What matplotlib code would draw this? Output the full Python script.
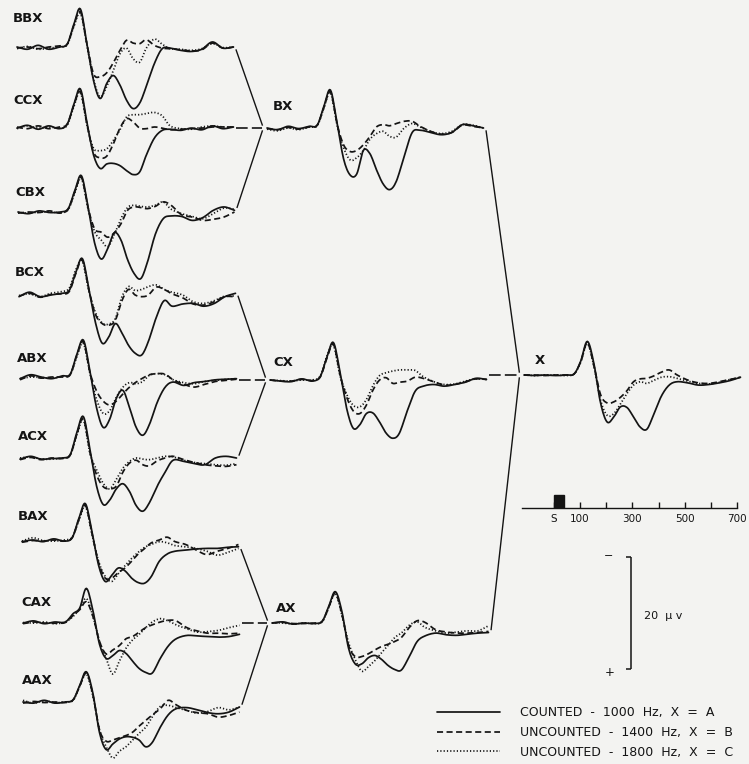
import numpy as np
import matplotlib
matplotlib.use("Agg")
import matplotlib.pyplot as plt

# ---------------- data (µV, negative = upward deflection) ----------------
t_ms = [-130, -90, -50, -10, 30, 60, 85, 110, 135, 160, 185, 210, 235, 260, 285,
        310, 335, 360, 390, 420, 450, 490, 530, 570, 610, 650, 690]

bbx_counted = [0.0, 0.4, -0.3, 0.4, 0.0, -0.5, -4.0, -6.8, -0.5, 6.0, 9.2, 6.5, 5.1, 6.8, 9.5, 11.0, 10.0, 7.0, 3.0, 0.3, 0.2, 0.6, 0.8, 0.4, -0.9, 0.2, 0.0]
bbx_unc1400 = [0.2, 0.0, 0.3, 0.0, -0.2, -0.5, -3.8, -6.3, -0.5, 4.8, 5.3, 4.6, 2.8, 0.6, -1.2, -0.7, -0.6, -1.3, -0.3, 0.2, 0.3, 0.5, 0.7, 0.5, -0.7, 0.2, 0.0]
bbx_unc1800 = [0.3, -0.1, 0.4, 0.2, 0.0, -0.4, -3.6, -6.0, -0.3, 5.8, 8.9, 7.0, 4.2, 1.2, 0.2, 2.1, 2.7, 0.2, -1.4, -0.5, 0.3, 0.4, 0.6, 0.3, -0.6, 0.1, 0.0]

ccx_counted = [0.2, -0.3, 0.4, -0.2, 0.3, -0.5, -4.0, -6.8, -0.8, 5.0, 7.4, 6.6, 6.5, 6.9, 7.8, 8.5, 8.0, 5.0, 2.0, 0.6, 0.4, 0.6, 0.2, 0.5, -0.2, 0.3, 0.0]
ccx_unc1400 = [0.0, 0.3, -0.2, 0.3, 0.0, -0.5, -3.8, -6.3, -0.5, 4.5, 5.5, 5.2, 3.0, 0.2, -1.5, -0.9, 0.2, 0.3, 0.0, 0.2, 0.5, 0.4, 0.3, 0.2, 0.0, 0.0, 0.0]
ccx_unc1800 = [0.3, -0.2, 0.2, 0.0, 0.2, -0.3, -3.6, -6.2, -0.3, 3.8, 4.2, 3.9, 2.4, 0.5, -1.8, -2.2, -2.2, -2.4, -2.6, -2.0, -0.2, 0.3, 0.4, 0.0, -0.2, 0.0, 0.0]

cbx_counted = [0.0, 0.3, -0.2, 0.1, 0.0, -0.6, -3.8, -6.5, -1.0, 5.5, 8.4, 6.5, 3.7, 5.0, 8.5, 11.0, 11.9, 9.0, 4.0, 1.2, 0.7, 0.8, 1.5, 1.0, -0.3, -0.9, -0.3]
cbx_unc1400 = [0.2, 0.0, 0.1, -0.2, 0.2, -0.5, -3.6, -6.2, -0.8, 3.0, 3.6, 4.5, 3.7, 2.1, -0.3, -0.9, -0.8, -0.6, -1.0, -1.8, -1.2, 0.5, 0.9, 1.5, 1.3, 0.9, 0.0]
cbx_unc1800 = [0.1, 0.2, 0.0, 0.0, 0.1, -0.4, -3.4, -6.0, -0.6, 3.5, 5.0, 6.2, 4.0, 1.2, -0.8, -1.2, -1.0, -0.9, -1.2, -1.8, -0.5, 0.3, 0.8, 1.2, 0.3, -0.7, -0.5]

bcx_counted = [0.3, -0.5, 0.3, 0.0, -0.3, -0.8, -4.0, -6.5, -1.0, 5.0, 8.6, 7.5, 5.1, 6.8, 9.0, 10.4, 10.7, 8.3, 4.0, 1.0, 2.0, 1.6, 1.5, 2.0, 1.5, 0.3, -0.3]
bcx_unc1400 = [0.2, -0.3, 0.4, -0.1, -0.2, -0.6, -3.8, -6.2, -0.8, 3.5, 5.1, 5.4, 4.5, 1.0, -1.0, 0.0, 0.3, 0.0, -1.4, -1.0, -0.2, 0.5, 1.6, 1.8, 1.2, 0.3, 0.3]
bcx_unc1800 = [0.1, -0.2, 0.3, -0.3, -0.6, -1.2, -4.5, -6.0, -0.6, 3.2, 5.0, 5.2, 4.2, 0.3, -1.5, -0.8, -1.0, -1.5, -1.8, -1.0, -0.5, 0.0, 1.2, 1.5, 1.0, 0.2, 0.2]

abx_counted = [0.3, -0.4, 0.0, 0.3, -0.2, -0.5, -4.0, -6.6, -1.0, 5.5, 9.0, 7.5, 3.8, 2.4, 5.5, 9.0, 10.4, 8.5, 4.5, 1.8, 0.9, 1.5, 1.0, 0.8, 0.5, 0.4, 0.3]
abx_unc1400 = [0.5, -0.2, 0.2, 0.0, 0.0, -0.4, -3.8, -6.3, -0.8, 2.5, 4.3, 5.0, 4.3, 3.0, 1.8, 0.9, 0.2, -0.4, -0.6, -0.5, 0.5, 1.3, 1.8, 1.3, 0.8, 0.6, 0.4]
abx_unc1800 = [0.3, 0.0, 0.1, 0.2, -0.1, -0.4, -3.6, -6.0, -0.6, 4.0, 6.5, 6.0, 3.6, 1.8, 1.0, 1.2, 0.8, -0.3, -0.6, -0.4, 0.5, 1.0, 1.2, 0.8, 0.6, 0.4, 0.3]

acx_counted = [0.2, -0.3, 0.2, 0.1, 0.0, -0.6, -4.5, -7.4, -1.5, 5.0, 8.3, 7.5, 5.5, 4.6, 6.0, 8.5, 9.5, 8.0, 5.0, 2.5, 0.4, 0.6, 1.0, 1.2, 0.0, -0.3, 0.0]
acx_unc1400 = [0.3, -0.1, 0.3, 0.0, 0.1, -0.5, -4.2, -7.0, -1.0, 3.0, 5.1, 5.5, 5.0, 2.5, 0.9, 0.4, 1.2, 1.4, 0.5, 0.0, -0.3, 0.3, 0.8, 1.2, 1.4, 1.5, 1.2]
acx_unc1800 = [0.0, -0.2, 0.2, 0.2, 0.0, -0.5, -4.0, -6.8, -0.8, 2.1, 4.5, 5.5, 3.8, 1.8, 0.6, 0.0, 0.2, 0.3, 0.0, -0.3, -0.2, 0.4, 0.8, 1.0, 1.2, 1.3, 1.0]

bax_counted = [0.3, 0.0, 0.3, -0.2, 0.2, -0.4, -3.8, -6.5, -1.5, 4.5, 7.4, 6.3, 5.0, 5.5, 6.8, 7.6, 7.7, 6.5, 3.8, 2.5, 2.0, 1.8, 1.6, 1.5, 1.5, 1.3, 1.2]
bax_unc1400 = [0.4, 0.1, 0.2, 0.0, 0.2, -0.4, -3.6, -6.2, -1.2, 4.0, 6.8, 6.8, 5.8, 5.0, 3.8, 2.5, 1.5, 0.5, 0.0, -0.5, 0.3, 0.8, 1.8, 2.6, 2.0, 1.5, 0.8]
bax_unc1800 = [0.2, -0.4, 0.1, 0.2, 0.0, -0.5, -3.4, -6.0, -1.0, 3.8, 6.5, 7.4, 6.0, 4.6, 3.3, 2.2, 1.3, 0.8, 0.3, 0.5, 1.0, 1.2, 1.5, 2.0, 2.7, 2.2, 1.5]

cax_counted = [0.2, -0.2, 0.3, 0.0, 0.0, -1.5, -2.5, -6.0, -2.0, 4.0, 6.5, 6.0, 5.1, 5.6, 7.0, 8.3, 9.0, 9.1, 6.5, 4.3, 3.0, 2.4, 2.5, 2.6, 2.7, 2.6, 2.2]
cax_unc1400 = [0.3, 0.0, 0.2, 0.2, 0.1, -1.2, -2.2, -3.6, -1.0, 3.5, 5.7, 5.0, 4.2, 3.0, 2.6, 1.8, 1.0, 0.5, 0.0, -0.3, -0.2, 1.0, 1.6, 2.0, 2.0, 2.1, 2.0]
cax_unc1800 = [0.1, 0.2, 0.0, 0.3, 0.0, -1.0, -2.4, -4.2, -1.0, 3.5, 6.5, 9.3, 7.0, 4.7, 3.2, 2.2, 1.0, 0.0, -0.6, -0.2, 0.5, 1.2, 1.8, 1.7, 1.5, 1.0, 0.6]

aax_counted = [0.0, 0.2, -0.3, 0.2, 0.0, -0.4, -3.0, -5.4, -1.5, 5.5, 8.5, 7.5, 6.6, 6.2, 6.3, 6.8, 8.0, 7.2, 4.5, 2.3, 1.2, 1.0, 1.4, 1.9, 2.1, 1.8, 0.9]
aax_unc1400 = [0.2, -0.1, 0.1, 0.0, 0.1, -0.4, -2.8, -5.2, -1.2, 5.0, 7.0, 6.8, 6.4, 6.0, 5.4, 4.3, 3.3, 2.3, 1.2, -0.3, 0.5, 1.5, 1.9, 2.1, 2.7, 2.4, 1.8]
aax_unc1800 = [-0.3, 0.2, -0.2, 0.1, 0.0, -0.3, -2.8, -5.0, -1.0, 5.0, 8.0, 10.0, 8.8, 8.0, 6.8, 5.6, 4.5, 2.6, 0.8, 0.6, 1.0, 1.5, 2.0, 1.7, 1.0, 1.4, 0.9]

bx_counted = [0.0, 0.3, -0.3, 0.1, -0.3, -0.5, -3.8, -6.8, -1.0, 5.5, 8.4, 8.2, 4.0, 4.6, 7.5, 10.0, 11.0, 9.5, 5.0, 0.8, 0.4, 0.8, 1.2, 0.8, -0.6, -0.4, 0.0]
bx_unc1400 = [0.1, 0.3, -0.1, 0.2, -0.2, -0.5, -3.6, -6.5, -0.8, 3.0, 4.2, 4.0, 3.0, 1.5, -0.2, -0.6, -0.4, -0.8, -1.2, -1.2, -0.3, 0.6, 1.1, 0.8, -0.5, -0.3, 0.0]
bx_unc1800 = [0.2, 0.5, 0.0, 0.3, -0.2, -0.4, -3.5, -6.3, -0.6, 3.5, 5.7, 5.3, 4.0, 2.0, 1.0, 0.6, 1.5, 1.6, 0.0, -0.8, -0.2, 0.6, 1.0, 0.6, -0.6, -0.5, 0.0]

cx_counted = [0.0, 0.2, 0.3, -0.2, 0.2, -0.6, -4.0, -6.7, -1.5, 5.0, 8.6, 8.0, 6.0, 5.9, 7.5, 9.5, 10.4, 9.5, 5.5, 2.0, 1.1, 0.8, 1.1, 0.8, 0.4, -0.3, -0.1]
cx_unc1400 = [0.0, 0.2, 0.2, -0.1, 0.1, -0.5, -3.8, -6.4, -1.0, 3.0, 5.5, 6.0, 4.5, 1.8, 0.0, -0.4, 0.6, 0.4, 0.2, -0.5, -0.3, 0.3, 0.9, 0.8, 0.3, -0.2, -0.1]
cx_unc1800 = [0.0, 0.1, 0.2, 0.0, 0.0, -0.7, -4.2, -6.2, -0.8, 2.5, 4.5, 4.8, 3.5, 1.0, -0.8, -1.3, -1.6, -1.8, -1.8, -1.7, -0.6, 0.3, 0.8, 0.7, 0.2, -0.2, -0.1]

ax_counted = [0.0, -0.2, 0.2, 0.0, 0.1, -0.3, -3.0, -5.6, -2.0, 4.5, 7.3, 7.3, 6.2, 5.8, 6.5, 7.6, 8.3, 8.4, 6.0, 3.3, 2.3, 1.8, 2.1, 2.2, 2.0, 1.8, 1.7]
ax_unc1400 = [0.0, -0.1, 0.1, 0.1, 0.0, -0.3, -2.8, -5.3, -1.5, 4.0, 6.0, 6.0, 5.5, 4.8, 4.2, 3.8, 3.3, 2.6, 0.8, -0.4, -0.1, 1.2, 1.6, 1.8, 1.8, 1.7, 1.5]
ax_unc1800 = [0.0, 0.0, 0.2, 0.0, 0.1, -0.2, -2.7, -5.2, -1.4, 3.5, 6.5, 8.6, 7.8, 6.7, 5.3, 4.0, 2.6, 1.8, 0.4, -0.2, 0.8, 1.4, 1.8, 1.6, 1.4, 1.4, 0.5]

x_counted = [0.0, 0.1, 0.0, 0.1, 0.0, -0.2, -2.5, -6.0, -2.0, 5.0, 8.4, 7.5, 5.7, 5.8, 7.5, 9.3, 9.7, 7.2, 3.8, 1.8, 1.2, 1.4, 1.8, 1.7, 1.4, 1.0, 0.4]
x_unc1400 = [0.0, 0.0, 0.1, 0.0, 0.0, -0.2, -2.4, -5.7, -1.6, 3.5, 5.0, 4.8, 4.0, 2.8, 1.2, 0.7, 0.6, 0.2, -0.5, -0.9, 0.0, 0.9, 1.4, 1.5, 1.2, 0.8, 0.4]
x_unc1800 = [0.0, 0.1, 0.0, 0.0, 0.1, -0.2, -2.3, -5.6, -1.5, 4.5, 7.2, 6.9, 5.2, 3.3, 1.8, 1.2, 1.5, 1.0, 0.4, 0.3, 0.6, 1.1, 1.5, 1.6, 1.3, 0.8, 0.4]

legend_labels = ["COUNTED - 1000 Hz, X = A",
                 "UNCOUNTED - 1400 Hz, X = B",
                 "UNCOUNTED - 1800 Hz, X = C"]
time_ticks = [0, 100, 200, 300, 400, 500, 600, 700]
time_tick_labels = ["S", "100", "", "300", "", "500", "", "700"]
stimulus_ms = (0, 40)
scale_uv = 20
scale_labels = ("\u2212", "+", "20  \u00b5 v")

# ---------------- style / layout ----------------
W, H = 749, 764
PAPER = "#f3f3f1"
INK = "#141414"
PX_PER_UV = 5.6
PX_PER_MS = 0.264
UV_TOP, UV_BOT = -9.0, 14.0
LW = 1.25
STYLES = [dict(linestyle="-"),
          dict(linestyle=(0, (3.5, 2.0))),
          dict(linestyle=(0, (0.7, 1.2)))]

fig = plt.figure(figsize=(W / 100, H / 100), dpi=100, facecolor=PAPER)


def px_axes(x, y_top, w, h):
    a = fig.add_axes([x / W, 1 - (y_top + h) / H, w / W, h / H])
    a.set_axis_off()
    return a


overlay = px_axes(0, 0, W, H)
overlay.set_xlim(0, W)
overlay.set_ylim(H, 0)


def smooth(xs, ys, n=8):
    P = np.column_stack([np.asarray(xs, float), np.asarray(ys, float)])
    P = np.vstack([2 * P[0] - P[1], P, 2 * P[-1] - P[-2]])
    u = np.linspace(0, 1, n, endpoint=False)[:, None]
    segs = []
    for i in range(1, len(P) - 2):
        p0, p1, p2, p3 = P[i - 1], P[i], P[i + 1], P[i + 2]
        segs.append(0.5 * (2 * p1 + (-p0 + p2) * u
                           + (2 * p0 - 5 * p1 + 4 * p2 - p3) * u ** 2
                           + (-p0 + 3 * p1 - 3 * p2 + p3) * u ** 3))
    segs.append(P[-2][None, :])
    S = np.vstack(segs)
    return S[:, 0], S[:, 1]


def panel(name, traces, x0, yb, label_xy):
    w = (t_ms[-1] - t_ms[0]) * PX_PER_MS
    h = (UV_BOT - UV_TOP) * PX_PER_UV
    a = px_axes(x0, yb + UV_TOP * PX_PER_UV, w, h)
    a.set_xlim(t_ms[0], t_ms[-1])
    a.set_ylim(UV_BOT, UV_TOP)
    lines = []
    for vals, st in reversed(list(zip(traces, STYLES))):
        xs, ys = smooth(t_ms, vals)
        ln, = a.plot(xs, ys, color=INK, lw=LW, clip_on=False,
                     solid_capstyle="round", dash_capstyle="butt", **st)
        lines.append(ln)
    overlay.text(label_xy[0], label_xy[1], name, fontsize=9.5, fontweight="bold",
                 color=INK, ha="left", va="center", family="DejaVu Sans")
    a.traces = traces
    return a, lines[::-1]


def to_overlay(a, x, y):
    d = a.transData.transform((x, y))
    return overlay.transData.inverted().transform(d)


panels = {}
spec = [
    ("BBX", (bbx_counted, bbx_unc1400, bbx_unc1800), 17, 47, (13, 18)),
    ("CCX", (ccx_counted, ccx_unc1400, ccx_unc1800), 17, 127, (13, 101)),
    ("CBX", (cbx_counted, cbx_unc1400, cbx_unc1800), 18, 212, (15, 192)),
    ("BCX", (bcx_counted, bcx_unc1400, bcx_unc1800), 19, 295, (15, 273)),
    ("ABX", (abx_counted, abx_unc1400, abx_unc1800), 20, 377, (17, 358)),
    ("ACX", (acx_counted, acx_unc1400, acx_unc1800), 20, 458, (18, 437)),
    ("BAX", (bax_counted, bax_unc1400, bax_unc1800), 22, 540, (18, 517)),
    ("CAX", (cax_counted, cax_unc1400, cax_unc1800), 23, 622, (21, 603)),
    ("AAX", (aax_counted, aax_unc1400, aax_unc1800), 23, 702, (22, 681)),
    ("BX", (bx_counted, bx_unc1400, bx_unc1800), 267, 128, (273, 107)),
    ("CX", (cx_counted, cx_unc1400, cx_unc1800), 270, 380, (273, 363)),
    ("AX", (ax_counted, ax_unc1400, ax_unc1800), 272, 623, (276, 608)),
    ("X", (x_counted, x_unc1400, x_unc1800), 524, 375, (535, 361)),
]
for name, tr, x0, yb, lab in spec:
    panels[name] = panel(name, tr, x0, yb, lab)

# ---------------- tree connectors ----------------
groups = [(("BBX", "CCX", "CBX"), "BX"),
          (("BCX", "ABX", "ACX"), "CX"),
          (("BAX", "CAX", "AAX"), "AX"),
          (("BX", "CX", "AX"), "X")]
for srcs, tgt in groups:
    ta = panels[tgt][0]
    jx, jy = to_overlay(ta, t_ms[0] - 14, 0)
    for k, s in enumerate(srcs):
        sa = panels[s][0]
        sx, sy = to_overlay(sa, t_ms[-1] + 10, sa.traces[0][-1])
        if k == 1:
            overlay.plot([sx, jx - 1], [jy, jy], color=INK, lw=1.2,
                         linestyle=(0, (7, 2.5)))
        else:
            sgn = 1 if k == 0 else -1
            overlay.plot([sx, jx - 1], [sy + 3 * sgn, jy - 3 * sgn], color=INK, lw=1.0)

# ---------------- time ruler ----------------
rx0, rx1, ry = 522, 737, 508
rax = px_axes(rx0, ry - 20, rx1 - rx0, 20)
rax.set_axis_on()
rax.patch.set_alpha(0)
rax.set_xlim(-122, 700)
rax.set_ylim(0, 20)
for sp in ("top", "left", "right"):
    rax.spines[sp].set_visible(False)
rax.spines["bottom"].set_color(INK)
rax.spines["bottom"].set_linewidth(1.0)
rax.set_yticks([])
rax.set_xticks(time_ticks)
rax.set_xticklabels(time_tick_labels)
rax.tick_params(axis="x", direction="in", length=4, width=1, color=INK,
                labelsize=7.5, labelcolor=INK, pad=4)
rax.bar(stimulus_ms[0], 13, width=stimulus_ms[1] - stimulus_ms[0], align="edge",
        color=INK, edgecolor=INK)

# ---------------- amplitude scale bar ----------------
sax = px_axes(620, 557, 20, scale_uv * PX_PER_UV)
sax.set_xlim(0, 20)
sax.set_ylim(scale_uv, 0)
sax.vlines(11, 0, scale_uv, color=INK, lw=1.1, clip_on=False)
sax.hlines([0, scale_uv], 6, 11, color=INK, lw=1.1, clip_on=False)
overlay.text(609, 556, scale_labels[0], fontsize=8, color=INK, ha="center", va="center")
overlay.text(610, 672, scale_labels[1], fontsize=8.5, color=INK, ha="center", va="center")
overlay.text(644, 616, scale_labels[2], fontsize=8, color=INK, ha="left", va="center")

# ---------------- legend ----------------
handles = panels["X"][1]
fs = 9
fig.legend(handles, [s.replace(" ", "  ") for s in legend_labels], loc="upper left",
           bbox_to_anchor=(437 / W, 1 - 706 / H), frameon=False,
           fontsize=fs, handlelength=63 / (fs * 100 / 72), handletextpad=1.6,
           labelspacing=0.55, borderpad=0, borderaxespad=0, labelcolor=INK)

fig.savefig("out.png", dpi=100, facecolor=PAPER)
